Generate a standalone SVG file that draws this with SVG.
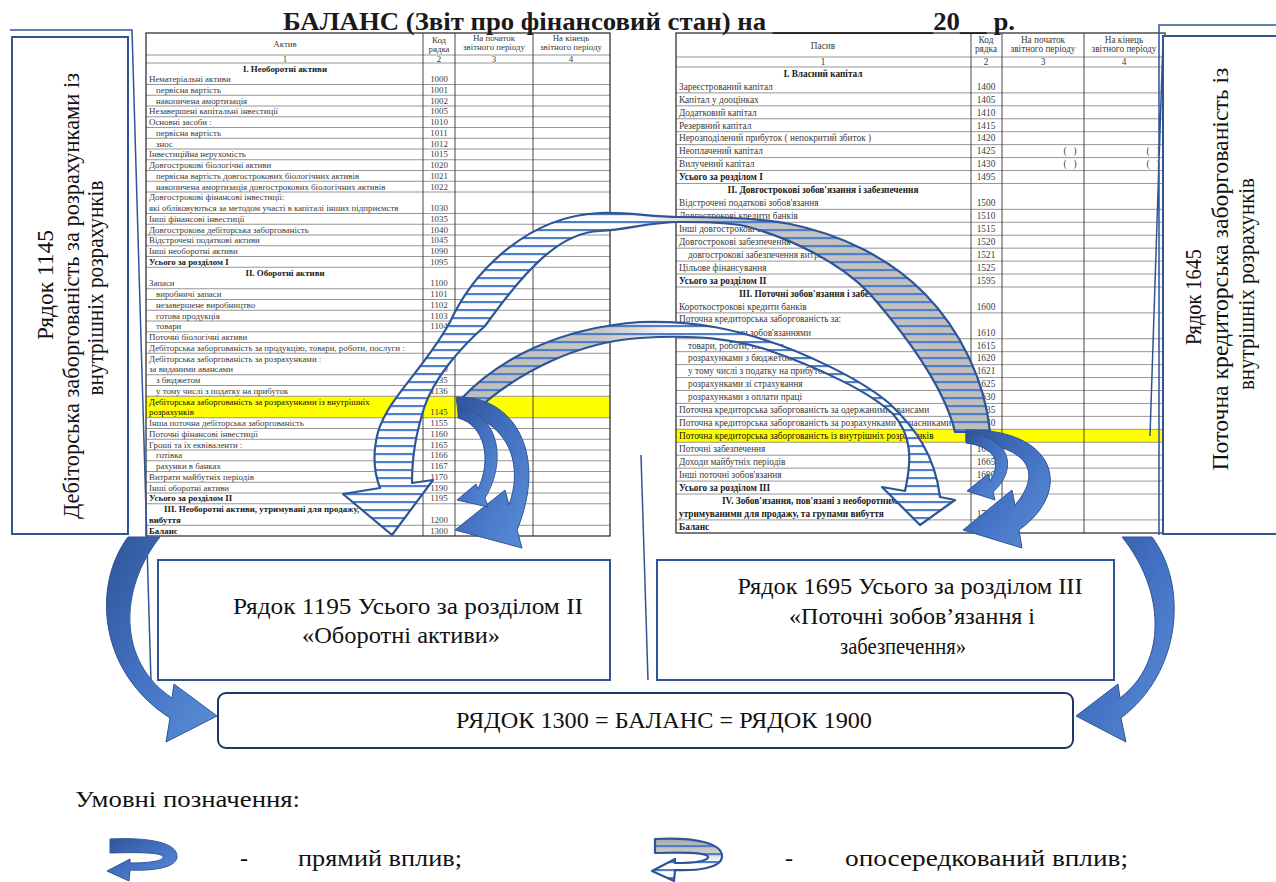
<svg xmlns="http://www.w3.org/2000/svg" width="1276" height="882" viewBox="0 0 1276 882" font-family="Liberation Serif, Times New Roman, serif">
<defs>
<style>
text{font-family:'Liberation Serif','Times New Roman',serif}
.lt{font-size:8.85px;fill:#3a3a3a}
.rt{font-size:9.3px;fill:#3a3a3a}
.b{font-weight:bold;fill:#1a1a1a}
.m{text-anchor:middle}
.hl{stroke:#8a8a8a;stroke-width:0.9;fill:none}
.vl{stroke:#333;stroke-width:0.9;fill:none}
.ob{stroke:#222;stroke-width:1.2;fill:none}
.box{fill:#fff;stroke:#2F5597;stroke-width:2}
.ln{fill:none;stroke:#2F5597;stroke-width:1.5}
.big{font-size:24px;fill:#111}
.rot{font-size:22.5px;fill:#111;text-anchor:middle}
.solid{fill:url(#gS);stroke:#2F5597;stroke-width:1;stroke-linejoin:round}
.edge{fill:none;stroke:#2F5597;stroke-width:2.2;stroke-linejoin:round}
.str{fill:url(#stripes)}
</style>
<linearGradient id="gS" x1="0" y1="0" x2="1" y2="1">
<stop offset="0" stop-color="#2E5597"/><stop offset="0.5" stop-color="#4472C4"/><stop offset="1" stop-color="#5B8FD6"/>
</linearGradient>
<linearGradient id="gA" gradientUnits="userSpaceOnUse" x1="990" y1="0" x2="380" y2="0">
<stop offset="0" stop-color="#BDBDBD"/><stop offset="0.45" stop-color="#C6C6C6"/><stop offset="0.59" stop-color="#FFFFFF"/><stop offset="1" stop-color="#FFFFFF"/>
</linearGradient>
<linearGradient id="gC" gradientUnits="userSpaceOnUse" x1="460" y1="0" x2="940" y2="0">
<stop offset="0" stop-color="#BDBDBD"/><stop offset="0.3" stop-color="#C6C6C6"/><stop offset="0.45" stop-color="#FFFFFF"/><stop offset="1" stop-color="#FFFFFF"/>
</linearGradient>
<linearGradient id="gL" x1="0" y1="0" x2="0" y2="1">
<stop offset="0" stop-color="#A8A8A8"/><stop offset="0.35" stop-color="#D0D0D0"/><stop offset="0.55" stop-color="#FFFFFF"/>
</linearGradient>
<pattern id="stripes" patternUnits="userSpaceOnUse" width="8" height="8">
<rect y="5" width="8" height="2.2" fill="#4F7FC9"/>
</pattern>
<path id="arcA" d="M990,432 C985,380 960,330 925,294 C890,258 840,234 790,224 C760,218 720,217 680,217 C650,217 630,212 600,213 C530,216 475,268 450,322 C425,368 388,398 378,432 C372,455 375,475 380,488 L343,494 L392,535 L433,480 L412,483 C412,450 418,428 424,408 C434,378 460,348 485,326 C525,270 560,232 600,231 C630,229 650,222 680,222 C710,222 730,223 745,226 C790,238 840,262 870,294 C910,340 945,390 955,432 Z"/>
<path id="arcC" d="M462,398 C500,358 560,328 640,322 C700,320 740,332 765,340 C800,351 860,378 890,404 C915,428 935,455 940,497 L955,500 L920,525 L882,487 L905,491 C912,460 912,435 893,414 C870,392 820,368 765,349 C735,340 700,334 640,338 C580,342 520,370 474,412 Z"/>
<path id="icon" d="M110,839 C150,837 178,843 177,857 C176,868 152,871 130,870 L129,881 L107,871 L130,859 L130,863 C150,863 163,861 163,857 C163,853 145,852 110,853 Z"/>
</defs>
<rect width="1276" height="882" fill="#fff"/>

<text x="283" y="30" class="b" font-size="25" textLength="732" lengthAdjust="spacingAndGlyphs">БАЛАНС (Звіт про фінансовий стан) на ____________20__ р.</text>

<!-- LEFT TABLE -->
<g id="table-left">
<rect x="146" y="396.25" width="464" height="21.5" fill="#FFFF00"/>
<path class="hl" d="M146 55H610M146 63H610M146 84.5H610M146 95.25H610M146 106H610M146 116.75H610M146 127.5H610M146 138.25H610M146 149H610M146 159.75H610M146 170.5H610M146 181.25H610M146 192H610M146 213.5H610M146 224.25H610M146 235H610M146 245.75H610M146 256.5H610M146 267.25H610M146 288.75H610M146 299.5H610M146 310.25H610M146 321H610M146 331.75H610M146 342.5H610M146 353.25H610M146 374.75H610M146 385.5H610M146 396.25H610M146 417.75H610M146 428.5H610M146 439.25H610M146 450H610M146 460.75H610M146 471.5H610M146 482.25H610M146 493H610M146 503.75H610M146 525.25H610"/>
<path class="vl" d="M423 33V536M455 33V536M533 33V536"/>
<rect class="ob" x="146" y="33" width="464" height="503"/>
<g class="lt m">
<text x="285" y="47">Актив</text>
<text x="439" y="43">Код</text><text x="439" y="52">рядка</text>
<text x="494" y="41">На початок</text><text x="494" y="50">звітного періоду</text>
<text x="571" y="41">На кінець</text><text x="571" y="50">звітного періоду</text>
<text x="285" y="61.5">1</text><text x="439" y="61.5">2</text><text x="494" y="61.5">3</text><text x="571" y="61.5">4</text>
<text x="285" y="71.5" class="b">І. Необоротні активи</text>
<text x="285" y="275.5" class="b">ІІ. Оборотні активи</text>
<text x="439" y="82.1">1000</text><text x="439" y="92.85">1001</text><text x="439" y="103.6">1002</text><text x="439" y="114.35">1005</text>
<text x="439" y="125.1">1010</text><text x="439" y="135.85">1011</text><text x="439" y="146.6">1012</text><text x="439" y="157.35">1015</text>
<text x="439" y="168.1">1020</text><text x="439" y="178.85">1021</text><text x="439" y="189.6">1022</text><text x="439" y="211.1">1030</text>
<text x="439" y="221.85">1035</text><text x="439" y="232.6">1040</text><text x="439" y="243.35">1045</text><text x="439" y="254.1">1090</text>
<text x="439" y="264.85">1095</text><text x="439" y="286.35">1100</text><text x="439" y="297.1">1101</text><text x="439" y="307.85">1102</text>
<text x="439" y="318.6">1103</text><text x="439" y="329.35">1104</text><text x="439" y="372.35">1130</text><text x="439" y="383.1">1135</text>
<text x="439" y="393.85">1136</text><text x="439" y="415.35">1145</text><text x="439" y="426.1">1155</text><text x="439" y="436.85">1160</text>
<text x="439" y="447.6">1165</text><text x="439" y="458.35">1166</text><text x="439" y="469.1">1167</text><text x="439" y="479.85">1170</text>
<text x="439" y="490.6">1190</text><text x="439" y="501.35">1195</text><text x="439" y="522.85">1200</text><text x="439" y="533.6">1300</text>
</g>
<g class="lt">
<text x="149" y="82.1">Нематеріальні активи</text>
<text x="156" y="92.85">первісна вартість</text>
<text x="156" y="103.6">накопичена амортизація</text>
<text x="149" y="114.35">Незавершені капітальні інвестиції</text>
<text x="149" y="125.1">Основні засоби :</text>
<text x="156" y="135.85">первісна вартість</text>
<text x="156" y="146.6">знос</text>
<text x="149" y="157.35">Інвестиційна нерухомість</text>
<text x="149" y="168.1">Довгострокові біологічні активи</text>
<text x="156" y="178.85">первісна вартість довгострокових біологічних активів</text>
<text x="156" y="189.6">накопичена амортизація довгострокових біологічних активів</text>
<text x="149" y="200.3">Довгострокові фінансові інвестиції:</text>
<text x="149" y="211.1">які обліковуються за методом участі в капіталі інших підприємств</text>
<text x="149" y="221.85">Інші фінансові інвестиції</text>
<text x="149" y="232.6">Довгострокова дебіторська заборгованість</text>
<text x="149" y="243.35">Відстрочені податкові активи</text>
<text x="149" y="254.1">Інші необоротні активи</text>
<text x="149" y="264.85" class="b">Усього за розділом I</text>
<text x="149" y="286.35">Запаси</text>
<text x="156" y="297.1">виробничі запаси</text>
<text x="156" y="307.85">незавершене виробництво</text>
<text x="156" y="318.6">готова продукція</text>
<text x="156" y="329.35">товари</text>
<text x="149" y="340.1">Поточні біологічні активи</text>
<text x="149" y="350.85">Дебіторська заборгованість за продукцію, товари, роботи, послуги :</text>
<text x="149" y="361.55">Дебіторська заборгованість за розрахунками :</text>
<text x="149" y="372.35">за виданими авансами</text>
<text x="156" y="383.1">з бюджетом</text>
<text x="156" y="393.85">у тому числі з податку на прибуток</text>
<text x="149" y="404.55" fill="#111">Дебіторська заборгованість за розрахунками із внутрішніх</text>
<text x="149" y="415.35" fill="#111">розрахунків</text>
<text x="149" y="426.1">Інша поточна дебіторська заборгованість</text>
<text x="149" y="436.85">Поточні фінансові інвестиції</text>
<text x="149" y="447.6">Гроші та їх еквіваленти :</text>
<text x="156" y="458.35">готівка</text>
<text x="156" y="469.1">рахунки в банках</text>
<text x="149" y="479.85">Витрати майбутніх періодів</text>
<text x="149" y="490.6">Інші оборотні активи</text>
<text x="149" y="501.35" class="b">Усього за розділом II</text>
<text x="164" y="512.05" class="b">ІІІ. Необоротні активи, утримувані для продажу,</text>
<text x="149" y="522.85" class="b">вибуття</text>
<text x="149" y="533.6" class="b">Баланс</text>
</g>
</g>

<!-- RIGHT TABLE -->
<g id="table-right">
<rect x="676" y="429.32" width="489" height="12.94" fill="#FFFF00"/>
<path class="hl" d="M676 57H1165M676 67H1165M676 92.88H1165M676 105.82H1165M676 118.76H1165M676 131.7H1165M676 144.64H1165M676 157.58H1165M676 170.52H1165M676 183.46H1165M676 209.34H1165M676 222.28H1165M676 235.22H1165M676 248.16H1165M676 261.1H1165M676 274.04H1165M676 286.98H1165M676 312.86H1165M676 338.74H1165M676 351.68H1165M676 364.62H1165M676 377.56H1165M676 390.5H1165M676 403.44H1165M676 416.38H1165M676 429.32H1165M676 442.26H1165M676 455.2H1165M676 468.14H1165M676 481.08H1165M676 494.02H1165M676 519.9H1165"/>
<path class="vl" d="M971 33V533M1002 33V533M1084 33V533"/>
<rect class="ob" x="676" y="33" width="489" height="500"/>
<g class="rt m">
<text x="823" y="49">Пасив</text>
<text x="986" y="43">Код</text><text x="986" y="52">рядка</text>
<text x="1043" y="43">На початок</text><text x="1043" y="52">звітного періоду</text>
<text x="1124" y="43">На кінець</text><text x="1124" y="52">звітного періоду</text>
<text x="823" y="65">1</text><text x="986" y="65">2</text><text x="1043" y="65">3</text><text x="1124" y="65">4</text>
<text x="823" y="76.5" class="b">І. Власний капітал</text>
<text x="823" y="193" class="b">ІІ. Довгострокові зобов'язання  і забезпечення</text>
<text x="823" y="296.5" class="b">ІІІ. Поточні зобов'язання  і забезпечення</text>
<text x="986" y="89.7">1400</text><text x="986" y="102.6">1405</text><text x="986" y="115.6">1410</text><text x="986" y="128.5">1415</text>
<text x="986" y="141.4">1420</text><text x="986" y="154.4">1425</text><text x="986" y="167.3">1430</text><text x="986" y="180.3">1495</text>
<text x="986" y="206.1">1500</text><text x="986" y="219.1">1510</text><text x="986" y="232">1515</text><text x="986" y="245">1520</text>
<text x="986" y="257.9">1521</text><text x="986" y="270.8">1525</text><text x="986" y="283.8">1595</text><text x="986" y="309.7">1600</text>
<text x="986" y="335.5">1610</text><text x="986" y="348.5">1615</text><text x="986" y="361.4">1620</text><text x="986" y="374.4">1621</text>
<text x="986" y="387.3">1625</text><text x="986" y="400.2">1630</text><text x="986" y="413.2">1635</text><text x="986" y="426.1">1640</text>
<text x="986" y="439.1">1645</text><text x="986" y="452">1660</text><text x="986" y="464.9">1665</text><text x="986" y="477.9">1690</text>
<text x="986" y="490.8">1695</text><text x="986" y="516.7">1700</text>
<text x="1070" y="154.4">(&#160;&#160;&#160;)</text><text x="1153" y="154.4">(&#160;&#160;&#160;)</text>
<text x="1070" y="167.3">(&#160;&#160;&#160;)</text><text x="1153" y="167.3">(&#160;&#160;&#160;)</text>
</g>
<g class="rt">
<text x="679" y="89.7">Зареєстрований капітал</text>
<text x="679" y="102.6">Капітал у дооцінках</text>
<text x="679" y="115.6">Додатковий капітал</text>
<text x="679" y="128.5">Резервний капітал</text>
<text x="679" y="141.4">Нерозподілений прибуток ( непокритий збиток )</text>
<text x="679" y="154.4">Неоплачений капітал</text>
<text x="679" y="167.3">Вилучений капітал</text>
<text x="679" y="180.3" class="b">Усього за розділом I</text>
<text x="679" y="206.1">Відстрочені податкові зобов'язання</text>
<text x="679" y="219.1">Довгострокові кредити банків</text>
<text x="679" y="232">Інші довгострокові зобов'язання</text>
<text x="679" y="245">Довгострокові забезпечення</text>
<text x="688" y="257.9">довгострокові забезпечення витрат персоналу</text>
<text x="679" y="270.8">Цільове фінансування</text>
<text x="679" y="283.8" class="b">Усього за розділом II</text>
<text x="679" y="309.7">Короткострокові кредити банків</text>
<text x="679" y="322.4">Поточна кредиторська заборгованість за:</text>
<text x="679" y="335.5">довгостроковими зобов'язаннями</text>
<text x="688" y="348.5">товари, роботи, послуги</text>
<text x="688" y="361.4">розрахунками з бюджетом</text>
<text x="688" y="374.4">у тому числі з податку на прибуток</text>
<text x="688" y="387.3">розрахунками зі страхування</text>
<text x="688" y="400.2">розрахунками з оплати праці</text>
<text x="679" y="413.2">Поточна кредиторська заборгованість за одержаними авансами</text>
<text x="679" y="426.1">Поточна кредиторська заборгованість за розрахунками з учасниками</text>
<text x="679" y="439.1" fill="#111">Поточна кредиторська заборгованість із внутрішніх розрахунків</text>
<text x="679" y="452">Поточні забезпечення</text>
<text x="679" y="464.9">Доходи майбутніх періодів</text>
<text x="679" y="477.9">Інші поточні зобов'язання</text>
<text x="679" y="490.8" class="b">Усього за розділом III</text>
<text x="722" y="503.6" class="b">IV. Зобов'язання, пов'язані з необоротними активами,</text>
<text x="679" y="516.7" class="b">утримуваними для продажу, та групами вибуття</text>
<text x="679" y="529.6" class="b">Баланс</text>
</g>
</g>

<!-- SIDE LABEL BOXES -->
<g id="box-1145">
<rect class="box" x="12" y="37" width="116" height="497"/>
<path class="ln" d="M10 30H132L151 682"/>
<text class="rot" transform="translate(53,285) rotate(-90)" textLength="110" lengthAdjust="spacingAndGlyphs">Рядок 1145</text>
<text class="rot" transform="translate(79,296) rotate(-90)" textLength="446" lengthAdjust="spacingAndGlyphs">Дебіторська заборгованість за розрахунками із</text>
<text class="rot" transform="translate(103,288) rotate(-90)" textLength="215" lengthAdjust="spacingAndGlyphs">внутрішніх розрахунків</text>
</g>
<g id="box-1645">
<rect class="box" x="1163" y="36" width="120" height="498"/>
<path class="ln" d="M1159 535V25H1276M1163 40L1150 436"/>
<text class="rot" transform="translate(1201,297) rotate(-90)" textLength="96" lengthAdjust="spacingAndGlyphs">Рядок 1645</text>
<text class="rot" transform="translate(1228,269) rotate(-90)" textLength="403" lengthAdjust="spacingAndGlyphs">Поточна кредиторська заборгованість із</text>
<text class="rot" transform="translate(1254,284) rotate(-90)" textLength="212" lengthAdjust="spacingAndGlyphs">внутрішніх розрахунків</text>
</g>

<!-- BOTTOM BOXES -->
<g id="box-1195">
<rect class="box" x="158" y="560" width="452" height="120"/>
<text class="big m" x="408" y="614" textLength="350" lengthAdjust="spacingAndGlyphs">Рядок 1195 Усього за розділом ІІ</text>
<text class="big m" x="401" y="643" textLength="198" lengthAdjust="spacingAndGlyphs">«Оборотні активи»</text>
</g>
<g id="box-1695">
<rect class="box" x="657" y="560" width="457" height="120"/>
<path class="ln" d="M641 455L648 680"/>
<text class="big m" x="910" y="594" textLength="345" lengthAdjust="spacingAndGlyphs">Рядок 1695 Усього за розділом ІІІ</text>
<text class="big m" x="912" y="624" textLength="246" lengthAdjust="spacingAndGlyphs">«Поточні зобов’язання і</text>
<text class="big m" x="903" y="654" textLength="126" lengthAdjust="spacingAndGlyphs">забезпечення»</text>
</g>
<g id="box-balance">
<rect x="218" y="693" width="855" height="55" rx="8" fill="#fff" stroke="#1F3864" stroke-width="2"/>
<text class="big m" x="664" y="728" textLength="416" lengthAdjust="spacingAndGlyphs">РЯДОК 1300 = БАЛАНС = РЯДОК 1900</text>
</g>

<!-- CONNECTORS -->
<g id="connectors">
<use href="#arcA" fill="url(#gA)"/>
<use href="#arcA" class="str"/>
<use href="#arcA" class="edge"/>
<use href="#arcC" fill="url(#gC)"/>
<use href="#arcC" class="str"/>
<use href="#arcC" class="edge"/>
<path class="solid" d="M456,397 C515,395 548,455 517,530 L522,548 L455,530 L505,490 L509,505 C525,460 505,420 458,412 Z"/>
<path class="solid" d="M458,408 C498,412 508,460 485,498 L488,507 L457,500 L476,484 L478,489 C492,460 485,425 458,418 Z"/>
<path class="solid" d="M966,430 C1055,428 1075,490 1019,530 L1022,548 L963,530 L1012,490 L1015,505 C1045,470 1025,445 966,442 Z"/>
<path class="solid" d="M966,433 C1012,436 1018,470 993,492 L995,500 L967,491 L988,474 L990,481 C1002,462 995,447 966,443 Z"/>
<path class="solid" d="M128,537 C92,585 98,672 170,718 L166,742 L217,716 L174,684 L172,698 C118,662 118,590 160,537 Z"/>
<path class="solid" d="M1152,537 C1188,585 1182,672 1121,718 L1126,742 L1076,716 L1118,684 L1120,698 C1168,662 1165,590 1122,537 Z"/>
</g>

<!-- LEGEND -->
<g id="legend">
<text class="big" x="75" y="807" textLength="225" lengthAdjust="spacingAndGlyphs">Умовні позначення:</text>
<use href="#icon" class="solid"/>
<text class="big" x="240" y="866">-</text>
<text class="big" x="298" y="866" textLength="164" lengthAdjust="spacingAndGlyphs">прямий вплив;</text>
<g transform="translate(545,0)">
<use href="#icon" fill="url(#gL)"/>
<use href="#icon" class="str"/>
<use href="#icon" class="edge" stroke-width="1.2"/>
</g>
<text class="big" x="785" y="866">-</text>
<text class="big" x="845" y="866" textLength="283" lengthAdjust="spacingAndGlyphs">опосередкований вплив;</text>
</g>
</svg>
